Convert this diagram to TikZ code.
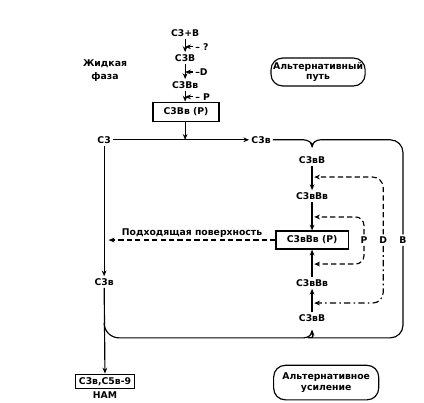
\documentclass[tikz,border=0pt]{standalone}
\usepackage{fontspec}
\setmainfont{DejaVu Sans}
\usetikzlibrary{positioning,arrows.meta,calc}

\begin{document}
\begin{tikzpicture}[
    txt/.style={font=\bfseries\fontsize{8.8}{10}\selectfont,inner sep=2pt},
    box/.style={txt,draw,line width=1.1pt,inner sep=3pt},
    altbox/.style={txt,draw,line width=1.1pt,rounded corners=11pt,align=center},
    arrow/.style={-{Stealth[length=5.5pt,width=4.5pt]},line width=1.1pt},
    link/.style={line width=1.1pt},
    dashline/.style={dash pattern=on 5pt off 3pt},
]
\useasboundingbox (0,0) rectangle (14.13,13.43);
% liquid phase
\node[txt,align=center,font=\bfseries\fontsize{8.8}{12.5}\selectfont] (liq) at (3.5,11.07) {Жидкая\\фаза};
\node[txt] (c3pb) at (6.17,12.33) {C3+B};
\node[txt] (c3b)  at (6.17,11.5) {C3B};
\node[txt] (c3bb) at (6.17,10.6) {C3Bв};
\node[box,minimum width=2.2cm,minimum height=0.65cm] (b1) at (6.2,9.7) {C3Bв (P)};
\draw[arrow] (c3pb) -- (c3b);
\draw[arrow] (c3b) -- (c3bb);
\draw[arrow] (c3bb) -- (c3bb |- b1.north);
% factors acting on the liquid phase
\node[txt,anchor=west] (fq) at (6.43,11.87) {– ?};
\node[txt,anchor=west] (fd) at (6.43,11.03) {–D};
\node[txt,anchor=west] (fp) at (6.43,10.2) {– P};
\draw[arrow] (fq.west) -- (fq.west -| c3pb);
\draw[arrow] (fd.west) -- (fd.west -| c3pb);
\draw[arrow] (fp.west) -- (fp.west -| c3pb);
% main line
\node[txt] (c3)  at (3.47,8.77) {C3};
\node[txt] (c3r) at (8.7,8.77) {C3в};
\node[txt] (c3l) at (3.47,4.03) {C3в};
\node[box] (mac) at (3.5,0.72) {C3в,C5в-9};
\node[txt,below=0pt of mac] (mactxt) {НАМ};
\draw[arrow] (c3) -- (c3r);
\draw[arrow] (b1.south -| c3bb) -- (c3bb |- c3);
\draw[arrow] (c3) -- (c3l);
\draw[arrow] (c3l) -- (mac);
% alternative pathway column
\node[txt] (cab1)  at (10.4,8.1) {C3вB};
\node[txt] (cabb1) at (10.4,6.9) {C3вBв};
\node[box,minimum width=2.4cm,minimum height=0.6cm] (bp) at (10.4,5.43) {C3вBв (P)};
\node[txt] (cabb2) at (10.4,4.0) {C3вBв};
\node[txt] (cab2)  at (10.4,2.83) {C3вB};
\draw[arrow] (cab1) -- (cabb1);
\draw[arrow] (cabb1) -- (bp);
\draw[arrow] (cab2) -- (cabb2);
\draw[arrow] (cabb2) -- (bp);
% B supply, braces into the column
\node[txt] (bl) at (13.43,5.43) {B};
\draw[arrow] (c3r.east) -- (10.12,8.77) to[out=0,in=90] (10.4,8.5);
\draw[link] (10.4,8.53) to[out=90,in=180] (10.68,8.77) [rounded corners=12pt] -| (bl.north);
\draw[arrow] (bl.south) [rounded corners=12pt] |- (10.68,2.17) [sharp corners] to[out=180,in=-90] (10.4,2.44);
\draw[link] (10.4,2.41) to[out=-90,in=0] (10.12,2.17) -- (3.97,2.17) to[out=180,in=-90] (3.47,2.67);
% P and D loops
\node[txt] (pl) at (12.13,5.43) {P};
\node[txt] (dl) at (12.77,5.43) {D};
\coordinate (pt) at (10.47,6.2);
\coordinate (pb) at (10.47,4.63);
\coordinate (dt) at (10.47,7.53);
\coordinate (db) at (10.47,3.33);
\draw[arrow,dashline,rounded corners=8pt] (pl.north) |- (pt);
\draw[arrow,dashline,rounded corners=8pt] (pl.south) |- (pb);
\draw[arrow,dashline,rounded corners=10pt] (dl.north) |- (dt);
\draw[arrow,dash pattern=on 6pt off 3pt on 1.5pt off 3pt,rounded corners=10pt] (dl.south) |- (db);
% surface
\coordinate (surf) at (3.62,5.43);
\draw[arrow,dashline] (bp.west) -- node[txt,above=0pt] {Подходящая поверхность} (surf);
% alternative boxes
\node[altbox,minimum width=2.87cm,minimum height=0.93cm] (altpath) at (10.6,11.03) {Альтернативный\\путь};
\node[altbox,minimum width=3.5cm,minimum height=1.15cm] (altamp) at (10.87,0.68) {Альтернативное\\усиление};
\end{tikzpicture}
\end{document}
